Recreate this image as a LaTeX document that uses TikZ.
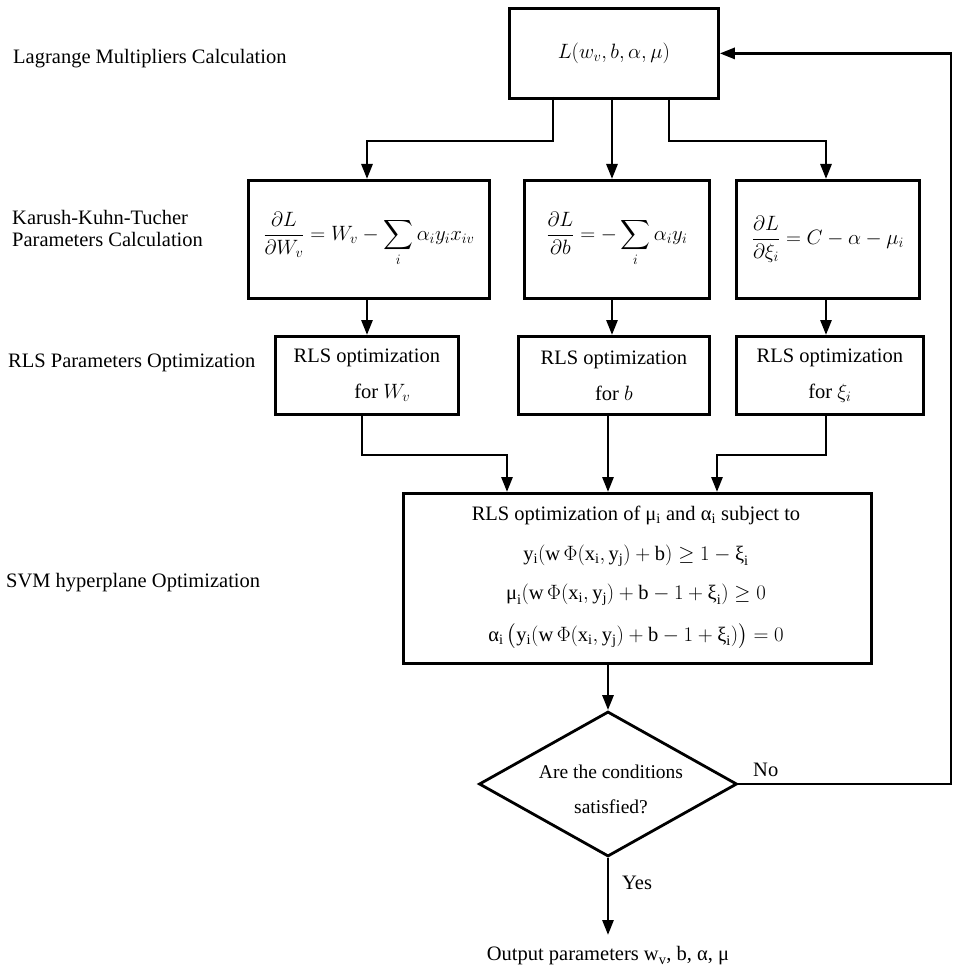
\documentclass[tikz,border=0pt]{standalone}
\usepackage{amsmath}
\usepackage{fontspec}
\setmainfont{Liberation Serif}
\usetikzlibrary{arrows.meta,shapes.geometric}
\newcommand{\gr}[1]{\textrm{#1}}
\begin{document}
\begin{tikzpicture}[x=1pt,y=-1pt,
  every node/.style={font=\fontsize{20.5}{24}\selectfont},
  box/.style={draw,line width=2.8pt,inner sep=0pt,anchor=north west},
  side/.style={anchor=west,inner sep=0pt,align=left},
  eqline/.style={inner sep=0pt,font=\fontsize{20.5}{24}\selectfont},
  link/.style={line width=2.8pt,-{Triangle[length=15pt,width=11pt]}},
  wire/.style={line width=2.8pt}]
\useasboundingbox (0,0) rectangle (954,968);

% left-hand stage labels
\node[side] (lab1) at (13,59) {Lagrange Multipliers Calculation};
\node[side,font=\fontsize{20.5}{22}\selectfont] (lab2) at (12,228) {Karush-Kuhn-Tucher\\Parameters Calculation};
\node[side] (lab3) at (8,363) {RLS Parameters Optimization};
\node[side] (lab4) at (6,583) {SVM hyperplane Optimization};

% Lagrangian
\node[box,minimum width=209pt,minimum height=90pt] (L) at (508,7) {};
\node[font=\fontsize{21}{24}\selectfont] at (L.center) {$L(w_v,b,\alpha,\mu)$};

% KKT conditions
\node[box,minimum width=241pt,minimum height=118pt] (k1) at (247,179) {};
\node[font=\fontsize{20}{24}\selectfont] at (k1.center) {$\displaystyle\frac{\partial L}{\partial W_v}=W_v-\sum_i\alpha_i y_i x_{iv}$};
\node[box,minimum width=185pt,minimum height=118pt] (k2) at (523,179) {};
\node[font=\fontsize{20}{24}\selectfont] at (k2.center) {$\displaystyle\frac{\partial L}{\partial b}=-\sum_i\alpha_i y_i$};
\node[box,minimum width=183pt,minimum height=118pt] (k3) at (735,179) {};
\node[font=\fontsize{20}{24}\selectfont] at (k3.center) {$\displaystyle\frac{\partial L}{\partial \xi_i}=C-\alpha-\mu_i$};

% RLS optimisation of each parameter
\node[box,minimum width=183pt,minimum height=78pt] (r1) at (274,335) {};
\node[align=center,font=\fontsize{20.5}{36}\selectfont] at (r1.center) {RLS optimization\\\hspace*{1.5em}for $W_v$};
\node[box,minimum width=191pt,minimum height=78pt] (r2) at (517,335) {};
\node[align=center,font=\fontsize{20.5}{36}\selectfont] at (r2.center) {RLS optimization\\for $b$};
\node[box,minimum width=187pt,minimum height=78pt] (r3) at (735,335) {};
\node[align=center,font=\fontsize{20.5}{36}\selectfont] at (r3.center) {RLS optimization\\for $\xi_i$};

% SVM hyperplane optimisation
\node[box,minimum width=468pt,minimum height=170pt] (svm) at (402,492) {};
\node[eqline] (e1) at (636,515) {RLS optimization of \gr{μ}\textsubscript{i} and \gr{α}\textsubscript{i} subject to};
\node[eqline] (e2) at (636,556) {$\mathrm{y_i}(\mathrm{w}\,\Phi(\mathrm{x_i},\mathrm{y_j})+\mathrm{b})\geq 1-\gr{ξ}_{\mathrm{i}}$};
\node[eqline] (e3) at (636,595) {$\gr{μ}_{\mathrm{i}}(\mathrm{w}\,\Phi(\mathrm{x_i},\mathrm{y_j})+\mathrm{b}-1+\gr{ξ}_{\mathrm{i}})\geq 0$};
\node[eqline] (e4) at (636,636) {$\gr{α}_{\mathrm{i}}\,\bigl(\mathrm{y_i}(\mathrm{w}\,\Phi(\mathrm{x_i},\mathrm{y_j})+\mathrm{b}-1+\gr{ξ}_{\mathrm{i}})\bigr)=0$};

% decision
\node[draw,diamond,aspect=1.78,line width=2.8pt,inner sep=0pt,minimum width=258pt,minimum height=145pt] (dec) at (608,784) {};
\node[align=center,font=\fontsize{19.5}{35}\selectfont] (q) at (611,789) {Are the conditions\\satisfied?};

% output
\node (out) at (608,956) {Output parameters w\textsubscript{v}, b, \gr{α}, \gr{μ}};
\coordinate (outtip) at (608,935);

% branches from the Lagrangian
\draw[link] (553,97) |- (367,141) -- (367,179);
\draw[link] (612,97) -- (612,179);
\draw[link] (669,97) |- (826,141) -- (826,179);

% KKT -> RLS
\draw[link] (367,297) -- (367,335);
\draw[link] (612,297) -- (612,335);
\draw[link] (826,297) -- (826,335);

% RLS -> hyperplane
\draw[link] (362,413) |- (507,455) -- (507,492);
\draw[link] (608,413) -- (608,492);
\draw[link] (826,413) |- (717,455) -- (717,492);

% hyperplane -> decision -> output
\draw[link] (608,662) -- (dec.north);
\draw[link] (dec.south) -- (outtip);
\node[anchor=west,inner sep=0pt] (yes) at (622,883) {Yes};

% feedback loop
\draw[link] (dec.east) -- (951,784) |- (L.east);
\node[anchor=south west,inner sep=0pt] (no) at (753,777) {No};
\end{tikzpicture}
\end{document}
